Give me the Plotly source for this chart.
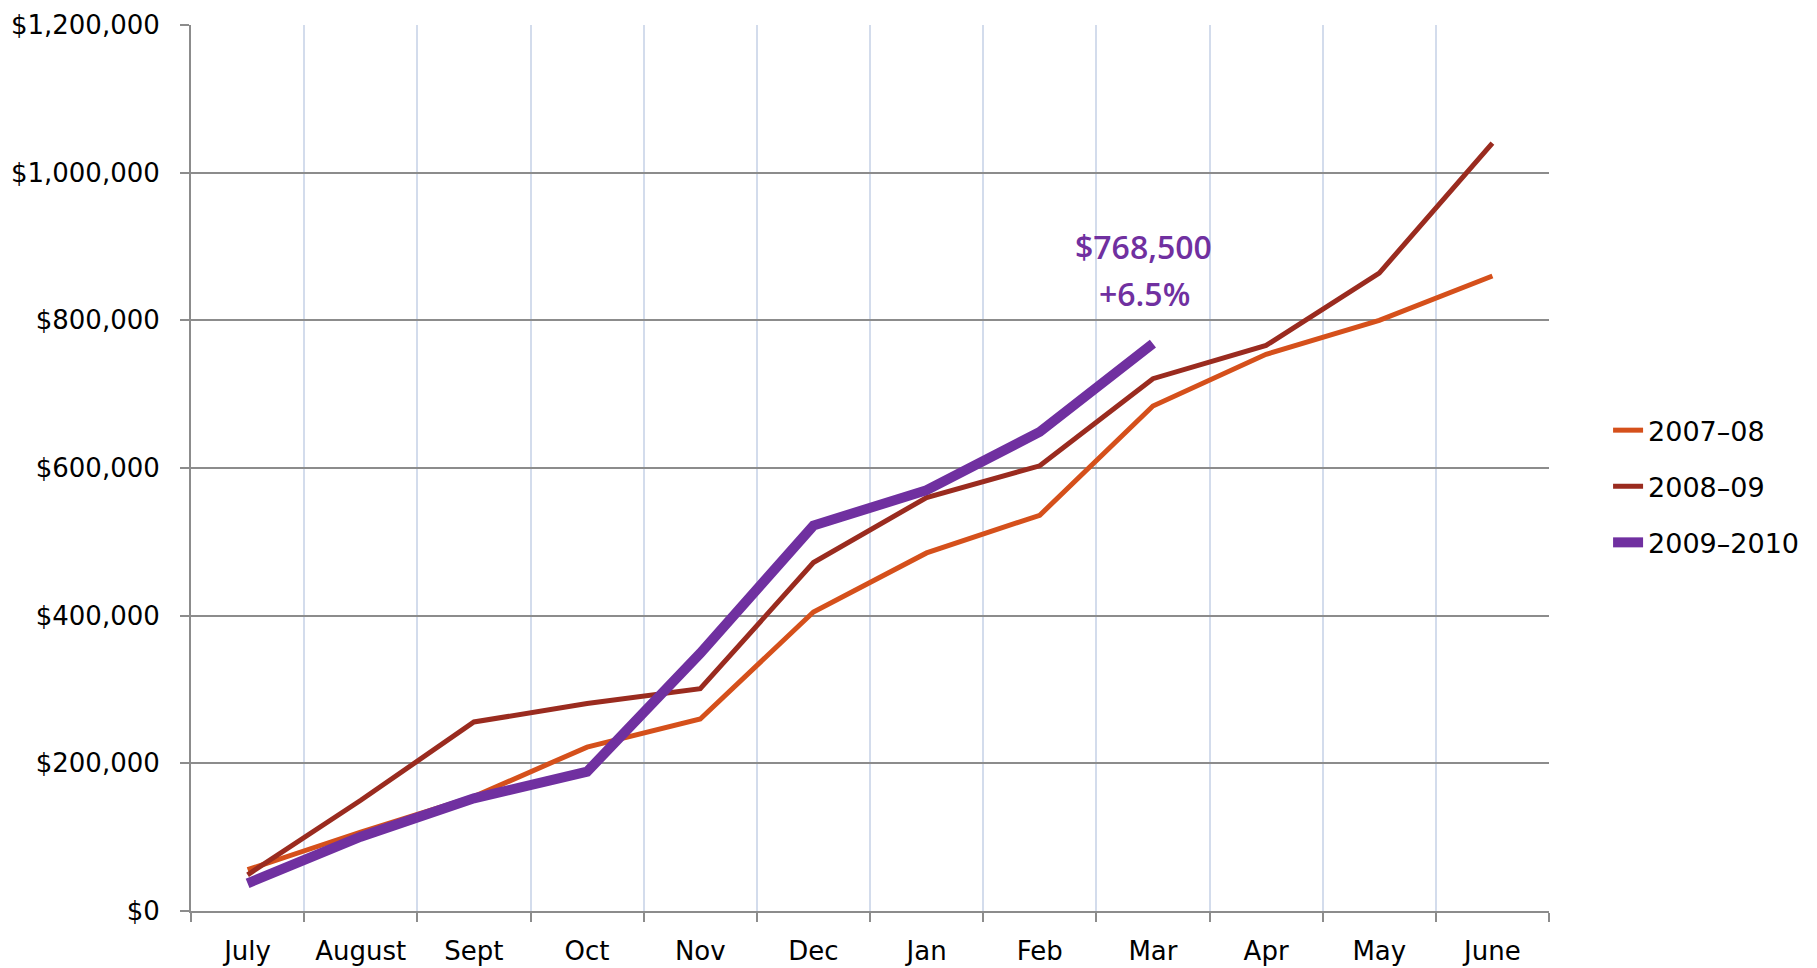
import plotly.graph_objects as go

months = ["July", "August", "Sept", "Oct", "Nov", "Dec", "Jan", "Feb", "Mar", "Apr", "May", "June"]
y_2007_08 = [56000, 107000, 155000, 222000, 260000, 405000, 485000, 536000, 684000, 754000, 800000, 860000]
y_2008_09 = [49000, 150000, 256000, 281000, 301000, 472000, 560000, 603000, 721000, 766000, 864000, 1040000]
y_2009_10 = [37500, 100600, 152600, 188700, 349000, 522000, 570000, 649000, 768500]
series_names = ["2007\u201308", "2008\u201309", "2009\u20132010"]
y_ticks = [0, 200000, 400000, 600000, 800000, 1000000, 1200000]
y_tick_labels = ["$0", "$200,000", "$400,000", "$600,000", "$800,000", "$1,000,000", "$1,200,000"]

colors = ["#D5501B", "#9A2B1F", "#7030A0"]
widths = [5, 5, 10]

fig = go.Figure()
for i, (name, ys) in enumerate(zip(series_names, [y_2007_08, y_2008_09, y_2009_10])):
    fig.add_trace(go.Scatter(
        x=months[:len(ys)], y=ys, mode="lines", name=name,
        legendgroup=name,
        line=dict(color=colors[i], width=widths[i]),
        hoverinfo="skip",
    ))

fig.add_annotation(x="Mar", y=899700, xref="x", yref="y", text="$768,500",
                   showarrow=False, xshift=-9, yanchor="middle",
                   font=dict(family="Open Sans", size=32, color="#7030A0", weight=600))
fig.add_annotation(x="Mar", y=837000, xref="x", yref="y", text="+6.5%",
                   showarrow=False, xshift=-8, yanchor="middle",
                   font=dict(family="Open Sans", size=32, color="#7030A0", weight=600))

fig.update_layout(
    width=1809, height=960,
    margin=dict(l=183, r=268, t=17, b=57, autoexpand=False),
    plot_bgcolor="white", paper_bgcolor="white",
    showlegend=True,
    legend=dict(
        x=1.0435, y=0.479, xanchor="left", yanchor="middle",
        font=dict(family="DejaVu Sans", size=27, color="#000000"),
        tracegroupgap=18, bgcolor="rgba(0,0,0,0)",
    ),
    xaxis=dict(
        type="category", categoryorder="array", categoryarray=months,
        range=[-0.5, 11.5], automargin=False,
        tickson="boundaries", ticks="outside", ticklen=9, tickwidth=2, tickcolor="#8C8C8C",
        showgrid=True, gridcolor="#D3DCEC", gridwidth=2,
        showline=True, linecolor="#8C8C8C", linewidth=2,
        tickfont=dict(family="DejaVu Sans", size=26, color="#000000"),
        ticklabelstandoff=16,
        zeroline=False,
    ),
    yaxis=dict(
        range=[0, 1200000], automargin=False,
        tickvals=y_ticks, ticktext=y_tick_labels,
        ticks="outside", ticklen=9, tickwidth=2, tickcolor="#8C8C8C",
        showgrid=True, gridcolor="#8C8C8C", gridwidth=2,
        showline=True, linecolor="#8C8C8C", linewidth=2,
        tickfont=dict(family="DejaVu Sans", size=26, color="#000000"),
        ticklabelstandoff=15,
        zeroline=False,
    ),
)

fig.write_html("out.html")
